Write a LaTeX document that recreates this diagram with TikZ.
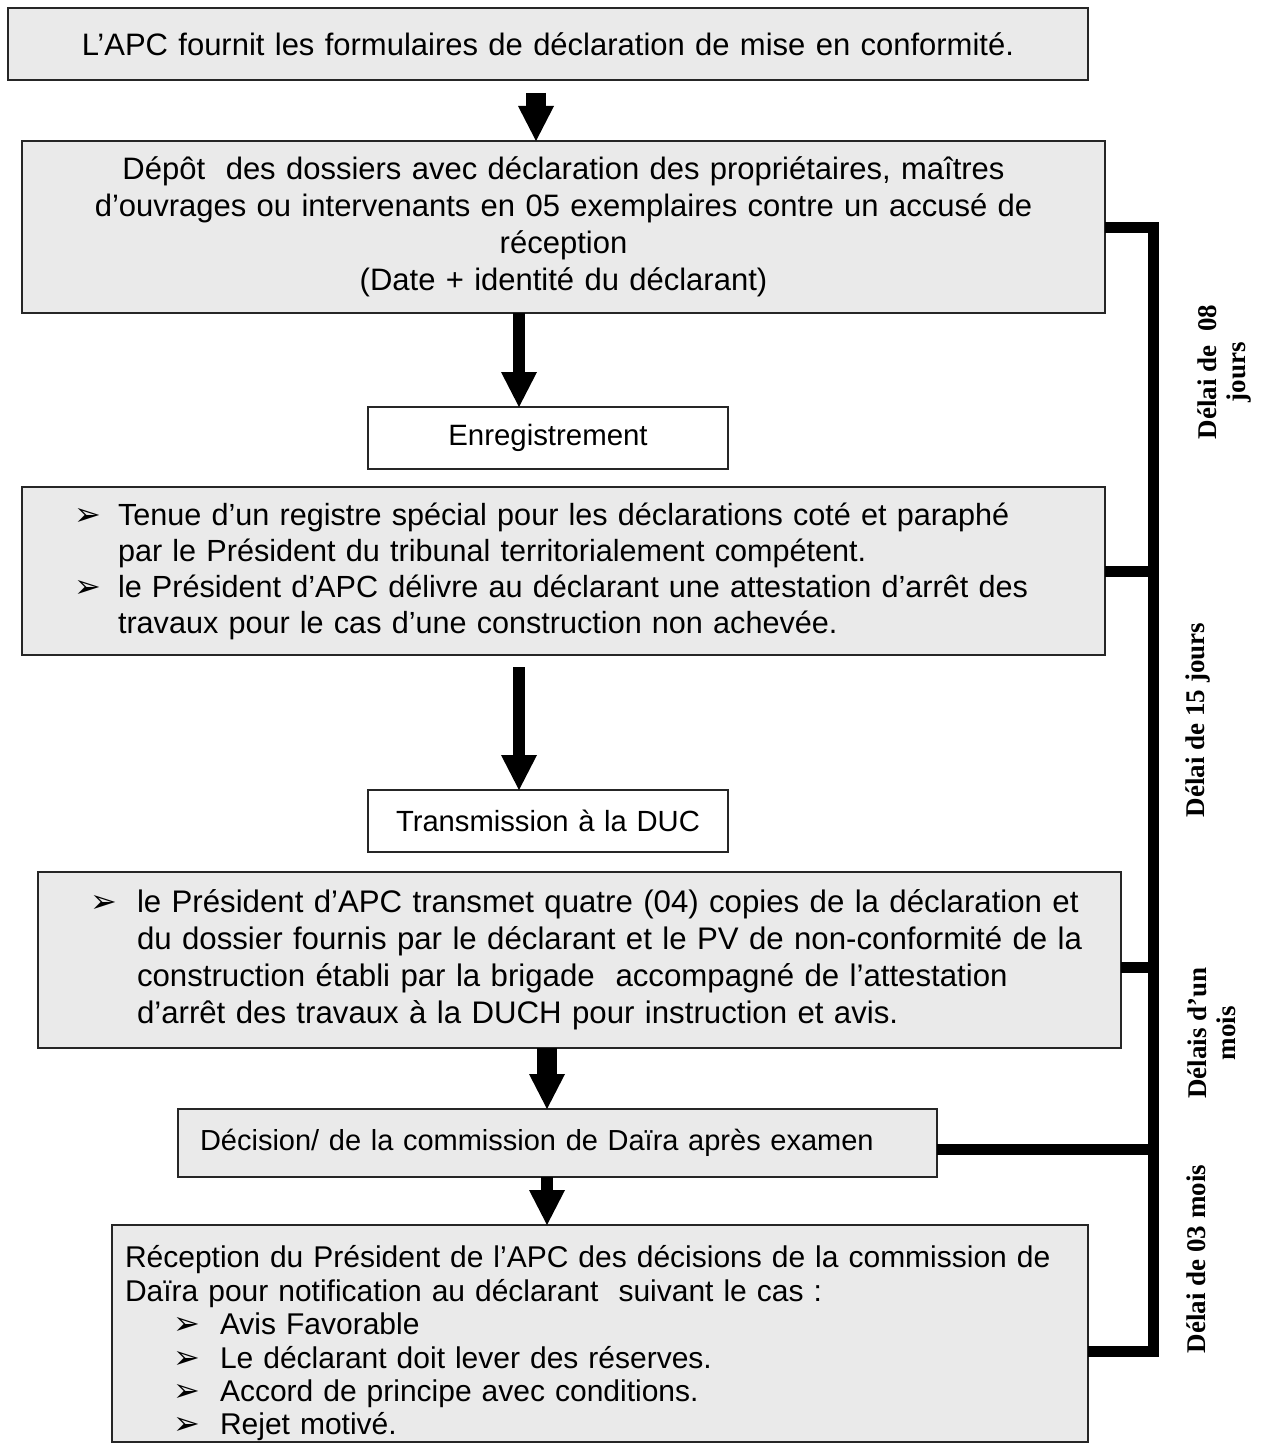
\documentclass[tikz,border=0pt]{standalone}
\usepackage{fontspec}
\setmainfont{Liberation Sans}
\newfontfamily\delayfont{Liberation Serif}
\newfontfamily\dingfont{DejaVu Sans}
\usetikzlibrary{arrows.meta,calc}

\definecolor{boxgray}{RGB}{234,234,234}
\newcommand\arrowbullet{{\dingfont\fontsize{32}{27}\selectfont ➢}}

\tikzset{
  panel/.style={draw=black!85, line width=1.3pt, fill=boxgray, inner sep=0pt, outer sep=0pt, anchor=north west},
  plain/.style={panel, fill=white},
  bodytext/.style 2 args={font=\fontsize{#1}{#2}\selectfont},
  fatarrow/.style={line width=20pt, -{Triangle[width=36pt,length=35pt,line width=0pt]}},
  thinarrow/.style={line width=12pt, -{Triangle[width=36pt,length=35pt,line width=0pt]}},
  bracket/.style={line width=11pt, line join=miter},
  delay/.style={rotate=90, align=center, font=\delayfont\bfseries\fontsize{27}{29}\selectfont}
}

\begin{document}
\begin{tikzpicture}[x=1pt, y=-1pt]
\useasboundingbox (0,0) rectangle (1264,1450);

% boxes of the procedure
\node[panel, minimum width=1080pt, minimum height=72pt, text width=1080pt, align=center, bodytext={31}{30}]
  (b1) at (8,8) {L’APC fournit les formulaires de déclaration de mise en conformité.};

\node[panel, minimum width=1083pt, minimum height=172pt, text width=1083pt, align=center, bodytext={31}{37}]
  (b2) at (22,141) {Dépôt\ \ des dossiers avec déclaration des propriétaires, maîtres\\
  d’ouvrages ou intervenants en 05 exemplaires contre un accusé de\\
  réception\\
  (Date + identité du déclarant)};

\node[plain, minimum width=360pt, minimum height=62pt, text width=360pt, align=center, bodytext={29.4}{30}]
  (enr) at (368,407) {Enregistrement};

\node[panel, minimum width=1083pt, minimum height=168pt, text width=1083pt, align=left, bodytext={30.6}{36}]
  (b3) at (22,487) {\hspace*{52pt}\makebox[44pt][l]{\arrowbullet}Tenue d’un registre spécial pour les déclarations coté et paraphé\\
  \hspace*{96pt}par le Président du tribunal territorialement compétent.\\
  \hspace*{52pt}\makebox[44pt][l]{\arrowbullet}le Président d’APC délivre au déclarant une attestation d’arrêt des\\
  \hspace*{96pt}travaux pour le cas d’une construction non achevée.};

\node[plain, minimum width=360pt, minimum height=62pt, text width=360pt, align=center, bodytext={29.2}{30}]
  (trans) at (368,790) {Transmission à la DUC};

\node[panel, minimum width=1083pt, minimum height=176pt, text width=1083pt, align=left, bodytext={31.2}{37}]
  (b4) at (38,872) {\hspace*{52pt}\makebox[47pt][l]{\arrowbullet}le Président d’APC transmet quatre (04) copies de la déclaration et\\
  \hspace*{99pt}du dossier fournis par le déclarant et le PV de non-conformité de la\\
  \hspace*{99pt}construction établi par la brigade\ \ accompagné de l’attestation\\
  \hspace*{99pt}d’arrêt des travaux à la DUCH pour instruction et avis.};

\node[panel, minimum width=759pt, minimum height=68pt, text width=759pt, align=left, bodytext={29}{30}]
  (dec) at (178,1109) {\hspace*{22pt}Décision/ de la commission de Daïra après examen};

\node[panel, minimum width=976pt, minimum height=217pt, text width=976pt, align=left, bodytext={30}{33.4}]
  (b5) at (112,1225) {\rule{0pt}{42pt}\hspace*{13pt}Réception du Président de l’APC des décisions de la commission de\\
  \hspace*{13pt}Daïra pour notification au déclarant\ \ suivant le cas :\\
  \hspace*{61pt}\makebox[47pt][l]{\arrowbullet}Avis Favorable\\
  \hspace*{61pt}\makebox[47pt][l]{\arrowbullet}Le déclarant doit lever des réserves.\\
  \hspace*{61pt}\makebox[47pt][l]{\arrowbullet}Accord de principe avec conditions.\\
  \hspace*{61pt}\makebox[47pt][l]{\arrowbullet}Rejet motivé.};

% arrows between the steps
\draw[fatarrow] ([xshift=-12pt, yshift=-13pt]b1.south) -- ([xshift=-27.5pt]b2.north);
\draw[thinarrow] ([xshift=-44.5pt]b2.south) -- ([xshift=-29pt]enr.north);
\draw[thinarrow] ([xshift=-44.5pt, yshift=-12pt]b3.south) -- ([xshift=-29pt]trans.north);
\draw[fatarrow] ([xshift=-32.5pt]b4.south) -- ([xshift=-10.5pt]dec.north);
\draw[thinarrow] ([xshift=-10.5pt]dec.south) -- ([xshift=-53pt]b5.north);

% delay bracket on the right
\coordinate (spine) at (1153.5,0);
\coordinate (b5tap) at ([yshift=-18pt]b5.east);
\draw[bracket] (b2.east) -- (b2.east -| spine) -- (spine |- b5tap) -- (b5tap);
\draw[bracket] (b3.east) -- (b3.east -| spine);
\draw[bracket] ([yshift=-7pt]b4.east) -- ([yshift=-7pt]b4.east -| spine);
\draw[bracket] ([yshift=-6pt]dec.east) -- ([yshift=-6pt]dec.east -| spine);

% delay labels
\node[delay] (d1) at (1224,372) {Délai de\ \ 08\\jours};
\node[delay] (d2) at (1198,720) {Délai de 15 jours};
\node[delay] (d3) at (1212,1033) {Délais d’un\\mois};
\node[delay] (d4) at (1196,1259) {Délai de 03 mois};
\end{tikzpicture}
\end{document}
